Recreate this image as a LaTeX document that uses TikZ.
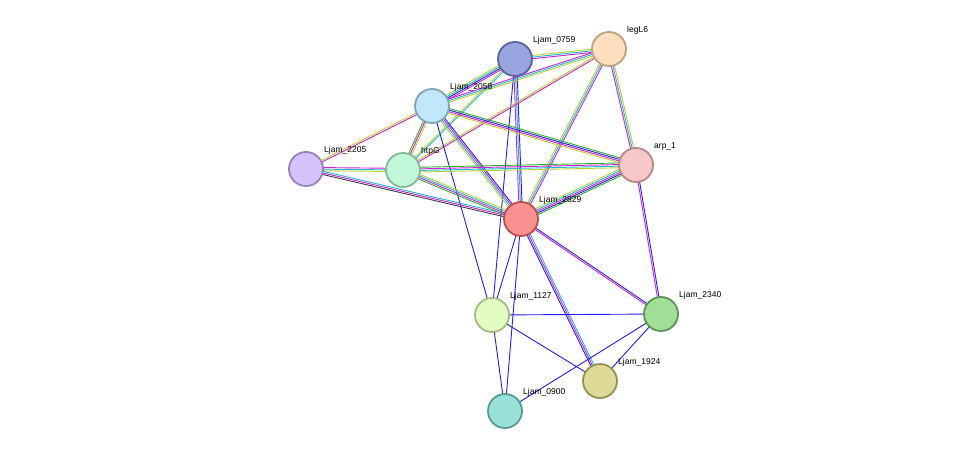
\documentclass[tikz,border=0pt]{standalone}
\usepackage{fontspec}
\setmainfont{Liberation Sans}
\usetikzlibrary{calc}
\definecolor{M}{HTML}{D020D0}
\definecolor{C}{HTML}{20B8D8}
\definecolor{Y}{HTML}{B8D030}
\definecolor{G}{HTML}{30B030}
\definecolor{B}{HTML}{2020EE}
\definecolor{K}{HTML}{404040}
\newcommand{\sedge}[3]{%
  \foreach \c [count=\i] in {#3} {\xdef\nn{\i}}%
  \foreach \c [count=\i] in {#3} {%
    \pgfmathsetmacro{\o}{(\i-(\nn+1)/2)*1.6}%
    \draw[\c,line width=0.9pt] ($(#1)!\o pt!90:(#2)$) -- ($(#2)!\o pt!-90:(#1)$);
  }}
\tikzset{prot/.style={circle,minimum size=34pt,inner sep=0pt,line width=1.8pt},
  lab/.style={font=\fontsize{8.5}{10}\selectfont,anchor=south west,inner sep=0pt}}
\begin{document}
\begin{tikzpicture}[x=1pt,y=-1pt]
\useasboundingbox (0,0) rectangle (976,457);
\coordinate (p0759) at (515,59);
\coordinate (legL6) at (609,49);
\coordinate (p2058) at (432,106);
\coordinate (p2205) at (306,169);
\coordinate (htpG) at (403,170);
\coordinate (arp) at (636,165);
\coordinate (p2829) at (521,219);
\coordinate (p1127) at (492,315);
\coordinate (p2340) at (661,314);
\coordinate (p1924) at (600,381);
\coordinate (p0900) at (505,411);
\sedge{p0759}{legL6}{M,C,Y}
\sedge{p0759}{p2058}{Y,C,B,M}
\sedge{p0759}{p2829}{M,C,B}
\sedge{p0759}{p1127}{B}
\sedge{p0759}{htpG}{Y,C}
\sedge{legL6}{p2058}{M,C,Y}
\sedge{legL6}{htpG}{Y,M}
\sedge{legL6}{p2829}{Y,C,M}
\sedge{legL6}{arp}{M,C,Y}
\sedge{p2058}{p2205}{Y,M}
\sedge{p2058}{htpG}{G,M,Y}
\sedge{p2058}{arp}{Y,M,B,G}
\sedge{p2058}{p2829}{Y,C,M,B}
\sedge{p2058}{p1127}{B}
\sedge{p2205}{htpG}{Y,C,M}
\sedge{p2205}{p2829}{K,M,C}
\sedge{htpG}{arp}{Y,C,M,G}
\sedge{htpG}{p2829}{G,M,C,Y}
\sedge{arp}{p2829}{Y,C,M,B,G}
\sedge{arp}{p2340}{M,B}
\sedge{p2829}{p1127}{B}
\sedge{p2829}{p0900}{B}
\sedge{p2829}{p1924}{B,M,C}
\sedge{p2829}{p2340}{M,B}
\sedge{p1127}{p2340}{B}
\sedge{p1127}{p1924}{B}
\sedge{p1127}{p0900}{B}
\sedge{p2340}{p0900}{B}
\sedge{p2340}{p1924}{B}
\node[prot,fill={rgb,255:red,154;green,165;blue,224},draw={rgb,255:red,90;green,100;blue,160}] (n0759) at (p0759) {};
\node[prot,fill={rgb,255:red,253;green,222;blue,190},draw={rgb,255:red,190;green,160;blue,130}] (nlegL6) at (legL6) {};
\node[prot,fill={rgb,255:red,192;green,232;blue,250},draw={rgb,255:red,125;green,165;blue,185}] (n2058) at (p2058) {};
\node[prot,fill={rgb,255:red,212;green,194;blue,250},draw={rgb,255:red,150;green,130;blue,190}] (n2205) at (p2205) {};
\node[prot,fill={rgb,255:red,194;green,248;blue,218},draw={rgb,255:red,130;green,185;blue,150}] (nhtpG) at (htpG) {};
\node[prot,fill={rgb,255:red,246;green,200;blue,200},draw={rgb,255:red,185;green,135;blue,135}] (narp) at (arp) {};
\node[prot,fill={rgb,255:red,250;green,145;blue,145},draw={rgb,255:red,185;green,80;blue,80}] (n2829) at (p2829) {};
\node[prot,fill={rgb,255:red,226;green,252;blue,196},draw={rgb,255:red,160;green,190;blue,130}] (n1127) at (p1127) {};
\node[prot,fill={rgb,255:red,160;green,224;blue,150},draw={rgb,255:red,90;green,150;blue,85}] (n2340) at (p2340) {};
\node[prot,fill={rgb,255:red,222;green,218;blue,152},draw={rgb,255:red,150;green,145;blue,80}] (n1924) at (p1924) {};
\node[prot,fill={rgb,255:red,152;green,224;blue,216},draw={rgb,255:red,85;green,155;blue,150}] (n0900) at (p0900) {};
\node[lab] at (533,44) {Ljam\_0759};
\node[lab] at (627,34) {legL6};
\node[lab] at (450,91) {Ljam\_2058};
\node[lab] at (324,154) {Ljam\_2205};
\node[lab] at (421,155) {htpG};
\node[lab] at (654,150) {arp\_1};
\node[lab] at (539,204) {Ljam\_2829};
\node[lab] at (510,300) {Ljam\_1127};
\node[lab] at (679,299) {Ljam\_2340};
\node[lab] at (618,366) {Ljam\_1924};
\node[lab] at (523,396) {Ljam\_0900};
\end{tikzpicture}
\end{document}
